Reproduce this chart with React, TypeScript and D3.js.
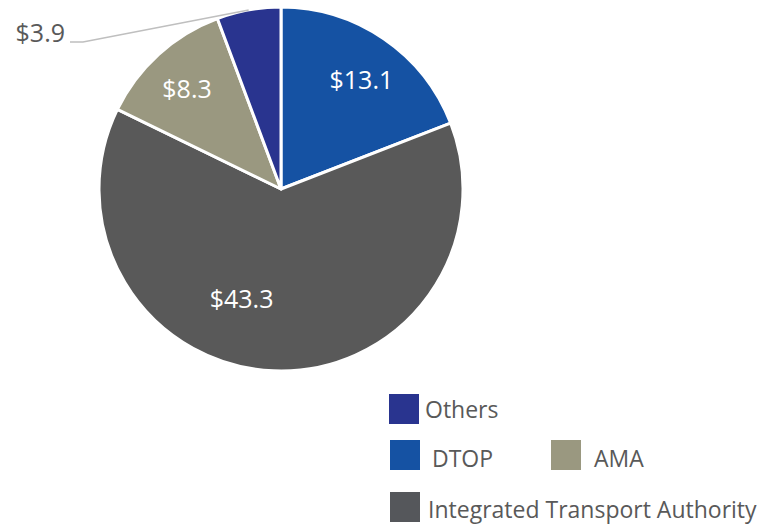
import React from "react";
import * as d3 from "d3";

const categories = ["DTOP", "Integrated Transport Authority", "AMA", "Others"];
const values = [13.1, 43.3, 8.3, 3.9];
const colors = ["#1552a3", "#595959", "#9a9880", "#29348f"];
const valueLabels = ["$13.1", "$43.3", "$8.3", "$3.9"];

const W = 763;
const H = 524;
const cx = 281;
const cy = 189;
const R = 182;
const FONT = "'Open Sans', sans-serif";
const LABEL_SIZE = 25;

// label placement tweaks (radius fraction, angle offset in radians)
const labelRadius = [0.745, 0.642, 0.754, 0];
const labelAngleShift = [0.035, 0.303, -0.017, 0];

export default function App() {
  const pie = d3
    .pie<number>()
    .sort(null)
    .value((d) => d)
    .startAngle(0)
    .endAngle(2 * Math.PI);
  const arcs = pie(values);
  const arcGen = d3.arc<d3.PieArcDatum<number>>().innerRadius(0).outerRadius(R);

  const pos = (angle: number, r: number) => [
    cx + r * Math.sin(angle),
    cy - r * Math.cos(angle),
  ];

  const othersArc = arcs[3];
  const oMid = (othersArc.startAngle + othersArc.endAngle) / 2;
  const [lx0, ly0] = pos(oMid, R);

  const legend = [
    { i: 3, x: 389, y: 394, tx: 425, ty: 418 },
    { i: 0, x: 390, y: 440, tx: 432, ty: 467 },
    { i: 2, x: 551, y: 440, tx: 594, ty: 467 },
    { i: 1, x: 390, y: 492, tx: 428, ty: 518 },
  ];
  const legendColors = ["#1552a3", "#55575b", "#9a9880", "#29348f"];

  return (
    <svg
      width={W}
      height={H}
      style={{ position: "absolute", left: 0, top: 0, background: "#fff" }}
    >
      <g transform={`translate(${cx},${cy})`}>
        {arcs.map((a, i) => (
          <path
            key={i}
            d={arcGen(a) || ""}
            fill={colors[i]}
            stroke="#fff"
            strokeWidth={3}
            strokeLinejoin="round"
          />
        ))}
      </g>
      {arcs.map((a, i) => {
        if (i === 3) return null;
        const mid = (a.startAngle + a.endAngle) / 2 + labelAngleShift[i];
        const [x, y] = pos(mid, R * labelRadius[i]);
        return (
          <text
            key={i}
            x={x}
            y={y + LABEL_SIZE * 0.357}
            textAnchor="middle"
            fill="#fff"
            fontFamily={FONT}
            fontSize={LABEL_SIZE}
          >
            {valueLabels[i]}
          </text>
        );
      })}
      <polyline
        points={`${lx0},${ly0} 83,42 70,42`}
        fill="none"
        stroke="#bfbfbf"
        strokeWidth={1.5}
      />
      <text
        x={65}
        y={42}
        textAnchor="end"
        fill="#595959"
        fontFamily={FONT}
        fontSize={LABEL_SIZE}
      >
        {valueLabels[3]}
      </text>
      {legend.map((l) => (
        <g key={l.i}>
          <rect x={l.x} y={l.y} width={30} height={30} fill={legendColors[l.i]} />
          <text
            x={l.tx}
            y={l.ty}
            fill="#595959"
            fontFamily={FONT}
            fontSize={23}
          >
            {categories[l.i]}
          </text>
        </g>
      ))}
    </svg>
  );
}
